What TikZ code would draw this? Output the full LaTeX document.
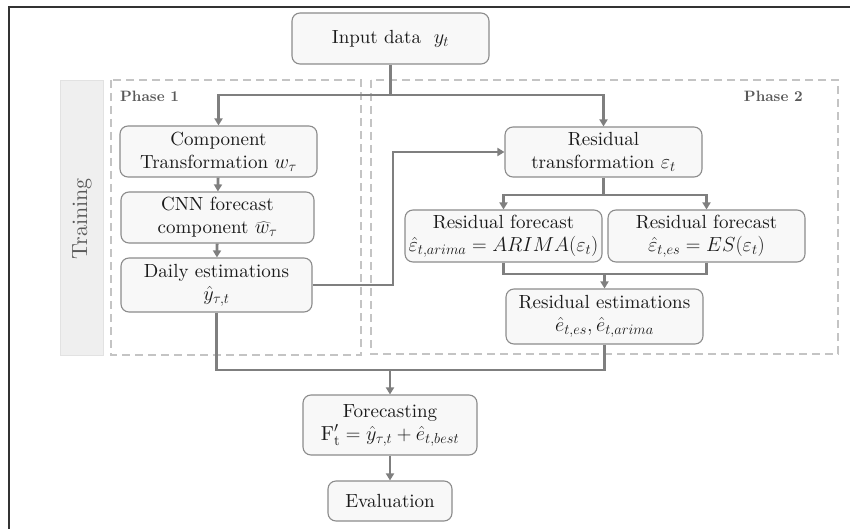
\RequirePackage{fix-cm}
\documentclass[tikz,border=0pt]{standalone}
\usepackage{fontspec}
\setmainfont{lmroman10}[Extension=.otf, UprightFont=*-regular, BoldFont=*-bold,
  ItalicFont=*-italic, BoldItalicFont=*-bolditalic]
\DeclareMathSizes{19}{20.3}{14.5}{11}
\usetikzlibrary{arrows.meta}

\definecolor{linegray}{HTML}{7F7F7F}
\definecolor{boxborder}{HTML}{8C8C8C}
\definecolor{boxfill}{HTML}{F8F8F8}
\definecolor{dashgray}{HTML}{C4C4C4}
\definecolor{bandfill}{HTML}{EFEFEF}
\definecolor{bandline}{HTML}{E2E2E2}
\definecolor{labelgray}{HTML}{595959}
\definecolor{textdark}{HTML}{1A1A1A}

\tikzset{
  procbox/.style={draw=boxborder, line width=1.1pt, fill=boxfill, rounded corners=8pt,
    align=center, inner sep=2pt, text=textdark,
    font=\fontsize{19}{23}\selectfont},
  flow/.style={draw=linegray, line width=2.8pt},
  flowarrow/.style={flow, -{Triangle[length=7pt,width=8pt]}},
  phasebox/.style={draw=dashgray, line width=1.2pt, dash pattern=on 8pt off 5pt},
  phaselabel/.style={text=labelgray, font=\fontsize{15}{18}\selectfont\bfseries, inner sep=0pt},
}

\begin{document}
\begin{tikzpicture}[x=1pt, y=-1pt]
  \useasboundingbox (0,0) rectangle (850,529);

  % open frame: top and left rules
  \draw[color=black!80, line width=1.5pt] (850,7) -- (9,7) -- (9,529);

  % training band and phase regions
  \draw[fill=bandfill, draw=bandline, line width=0.8pt] (60,80) rectangle (103,355);
  \node[rotate=90, text=labelgray, font=\fontsize{22}{26}\selectfont] (training) at (82,219) {Training};
  \draw[phasebox] (111,80) rectangle (361,355);
  \draw[phasebox] (371,80) rectangle (838,354);
  \node[phaselabel, anchor=base west] (ph1) at (120,102) {Phase 1};
  \node[phaselabel, anchor=base east] (ph2) at (803,102) {Phase 2};

  % process boxes
  \node[procbox, minimum width=197pt, minimum height=51pt] (input) at (390.5,38.5) {Input data\ \ $y_t$};
  \node[procbox, minimum width=197pt, minimum height=51pt] (comp) at (218.5,151.5) {Component\\Transformation $w_\tau$};
  \node[procbox, minimum width=193pt, minimum height=51pt] (cnn) at (217.5,217.5) {CNN forecast\\component $\widehat{w}_\tau$};
  \node[procbox, minimum width=191pt, minimum height=54pt] (daily) at (216.5,285) {Daily estimations\\$\hat{y}_{\tau,t}$};
  \node[procbox, minimum width=197pt, minimum height=50pt] (restr) at (603.5,152) {Residual\\transformation $\varepsilon_t$};
  \node[procbox, minimum width=197pt, minimum height=52pt] (rarima) at (503.5,236) {Residual forecast\\$\hat{\varepsilon}_{t,arima} = ARIMA(\varepsilon_t)$};
  \node[procbox, minimum width=197pt, minimum height=52pt] (res) at (706.5,236) {Residual forecast\\$\hat{\varepsilon}_{t,es} = ES(\varepsilon_t)$};
  \node[procbox, minimum width=197pt, minimum height=55pt] (rest) at (604.5,316.5) {Residual estimations\\$\hat{e}_{t,es}, \hat{e}_{t,arima}$};
  \node[procbox, minimum width=174pt, minimum height=60pt] (fore) at (390,425) {Forecasting\\$\mathrm{F}'_{\mathrm{t}} = \hat{y}_{\tau,t} + \hat{e}_{t,best}$};
  \node[procbox, minimum width=124pt, minimum height=40pt] (eval) at (390,501) {Evaluation};

  % junction points
  \coordinate (split1) at (390.5,95);
  \coordinate (bend) at (393,285);
  \coordinate (split2) at (603.5,195);
  \coordinate (merge2) at (604.5,274);
  \coordinate (merge3) at (390,370);

  % connectors
  \draw[flow] (input.south) -- (split1);
  \draw[flowarrow] (split1) -| (comp.north);
  \draw[flowarrow] (split1) -| (restr.north);
  \draw[flowarrow] (comp) -- (cnn);
  \draw[flowarrow] (cnn) -- (daily);
  \draw[flowarrow] (daily.east) -- (bend) |- (restr.west);
  \draw[flow] (restr.south) -- (split2);
  \draw[flowarrow] (split2) -| (rarima.north);
  \draw[flowarrow] (split2) -| (res.north);
  \draw[flow] (rarima.south) |- (merge2);
  \draw[flow] (res.south) |- (merge2);
  \draw[flowarrow] (merge2) -- (rest.north);
  \draw[flow] (daily.south) |- (merge3);
  \draw[flow] (rest.south) |- (merge3);
  \draw[flowarrow] (merge3) -- (fore.north);
  \draw[flowarrow] (fore) -- (eval);
\end{tikzpicture}
\end{document}
